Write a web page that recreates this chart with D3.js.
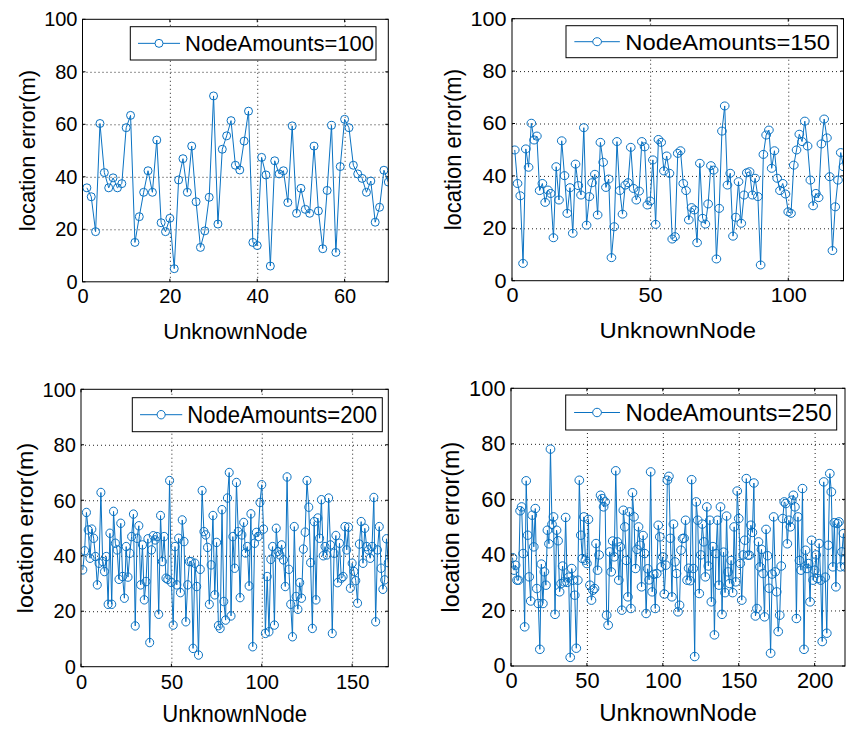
<!DOCTYPE html>
<html>
<head>
<meta charset="utf-8">
<script src="https://cdn.jsdelivr.net/npm/d3@7"></script>
<style>
  body { margin: 0; background: #fff; }
  svg { display: block; font-family: "Liberation Sans", Arial, sans-serif; }
  .grid line { stroke: #222; stroke-width: 1; stroke-dasharray: 1,3; }
  .grid .domain { display: none; }
  .axis .domain { display: none; }
  .axis text { fill: #000; }
</style>
</head>
<body>
<svg id="chart"></svg>
<script>
// location error per unknown node
let nodes100 = [
  35.8, 32.4, 19.1, 60.3, 41.6, 35.8, 39.6, 35.8, 37.4, 58.7,
  63.4, 15.0, 24.8, 34.1, 42.3, 34.1, 54.0, 22.5, 19.1, 24.2,
  5.0, 38.8, 46.9, 34.1, 51.7, 30.5, 13.1, 19.4, 32.2, 70.8,
  22.0, 50.5, 55.6, 61.4, 44.4, 42.6, 53.6, 65.0, 15.0, 13.8,
  47.4, 40.7, 6.0, 46.1, 41.1, 42.3, 30.2, 59.4, 26.1, 35.6,
  27.6, 26.1, 51.7, 27.0, 12.6, 34.8, 59.6, 11.2, 43.9, 61.9,
  58.7, 44.4, 41.1, 39.4, 34.1, 38.4, 22.7, 28.4, 42.5, 38.0
];

let nodes150 = [
  49.9, 37.1, 32.4, 6.6, 50.3, 43.3, 60.1, 53.7, 55.2, 34.4,
  37.1, 29.9, 34.6, 33.3, 16.4, 43.5, 30.8, 53.4, 40.1, 25.7,
  35.5, 18.1, 44.5, 36.3, 32.7, 58.4, 21.2, 32.1, 37.4, 40.6,
  25.1, 52.8, 45.2, 35.6, 38.8, 8.8, 20.6, 53.1, 34.4, 25.4,
  36.5, 37.4, 50.9, 35.2, 30.8, 34.2, 53.1, 51.1, 28.9, 30.4,
  46.1, 21.5, 53.9, 52.8, 41.9, 47.6, 41.0, 15.9, 16.8, 48.6,
  49.6, 37.1, 34.4, 23.2, 27.9, 27.0, 14.5, 44.8, 23.8, 21.6,
  29.3, 43.9, 42.2, 8.3, 27.6, 57.1, 66.7, 36.5, 41.0, 17.0,
  24.2, 37.8, 21.9, 32.7, 41.2, 41.6, 32.7, 39.1, 32.1, 6.0,
  48.2, 55.6, 57.5, 42.9, 49.6, 39.1, 34.4, 37.1, 33.1, 26.3,
  25.7, 44.1, 49.9, 55.9, 53.1, 60.9, 51.4, 38.4, 28.6, 33.3,
  31.7, 52.2, 61.7, 54.5, 39.7, 11.5, 28.2, 38.4, 48.9, 43.5
];

let nodes200 = [
  34.9, 41.8, 55.6, 49.3, 39.1, 49.6, 46.3, 39.7, 29.5, 37.3,
  62.8, 37.9, 34.3, 39.7, 22.5, 48.1, 22.5, 56.0, 44.5, 42.1,
  31.5, 51.7, 32.5, 24.7, 43.3, 32.3, 40.9, 46.9, 55.0, 14.7,
  46.3, 50.8, 29.5, 43.9, 24.1, 30.7, 46.1, 8.7, 42.1, 47.2,
  45.7, 46.9, 18.9, 54.5, 37.9, 46.9, 31.9, 31.5, 67.1, 30.4,
  15.0, 43.3, 29.5, 46.3, 26.7, 52.9, 45.1, 16.2, 29.5, 37.9,
  37.9, 6.6, 37.3, 28.9, 4.2, 35.1, 63.5, 48.7, 47.5, 43.0,
  22.5, 36.7, 54.5, 25.9, 44.8, 14.8, 13.8, 56.6, 23.5, 16.8,
  60.8, 70.0, 18.3, 46.9, 35.5, 66.4, 48.7, 24.9, 47.5, 52.0,
  41.0, 43.3, 29.1, 55.1, 7.2, 44.5, 48.4, 46.9, 59.2, 65.6,
  49.6, 12.0, 32.5, 12.6, 38.7, 43.3, 15.0, 49.9, 41.5, 40.3,
  43.9, 38.5, 28.9, 68.4, 35.1, 22.5, 10.8, 50.5, 25.3, 20.7,
  30.3, 24.7, 42.4, 48.5, 67.1, 57.5, 37.5, 13.8, 52.3, 24.1,
  53.6, 46.3, 60.2, 40.0, 43.3, 40.3, 60.8, 43.9, 12.0, 40.9,
  47.3, 30.3, 44.5, 31.9, 32.5, 50.5, 42.1, 50.3, 28.3, 37.3,
  34.3, 31.0, 22.9, 44.2, 52.3, 37.3, 49.9, 43.3, 42.1, 39.1,
  43.3, 61.0, 16.2, 42.1, 50.5, 35.5, 27.9, 31.3, 46.1, 37.5
];

let nodes250 = [
  39.0, 34.5, 36.3, 30.9, 30.9, 55.9, 57.3, 40.5, 14.1, 66.7,
  47.1, 32.1, 23.4, 54.3, 42.9, 56.7, 27.9, 22.5, 6.0, 36.7,
  22.5, 33.9, 29.1, 48.9, 44.0, 78.1, 51.0, 53.7, 18.6, 48.9,
  45.1, 26.7, 29.7, 36.0, 30.3, 53.5, 30.1, 32.0, 3.1, 35.1,
  30.9, 25.5, 6.4, 30.9, 66.9, 47.1, 38.7, 53.7, 38.1, 36.9,
  52.8, 29.1, 23.7, 27.3, 27.9, 44.1, 34.5, 40.0, 61.5, 60.3,
  57.3, 59.1, 18.3, 14.7, 41.1, 33.9, 45.0, 39.3, 70.3, 44.7,
  30.9, 42.9, 20.1, 56.1, 50.1, 38.0, 24.9, 55.5, 20.7, 62.4,
  53.7, 35.1, 42.0, 50.1, 43.5, 28.5, 47.0, 40.5, 18.9, 35.0,
  31.0, 69.9, 26.7, 33.0, 20.7, 33.3, 50.7, 46.5, 35.7, 39.3,
  25.9, 36.3, 66.9, 68.3, 46.0, 24.9, 51.1, 37.5, 33.3, 19.5,
  21.9, 41.7, 45.9, 46.0, 52.5, 30.9, 35.2, 30.7, 67.1, 35.1,
  3.4, 59.1, 52.5, 26.1, 40.0, 51.1, 44.7, 32.1, 57.3, 36.0,
  52.5, 23.1, 43.0, 11.2, 40.5, 52.5, 29.1, 57.3, 18.6, 41.0,
  26.4, 54.0, 33.9, 29.7, 38.0, 26.4, 50.1, 30.3, 63.0, 53.1,
  36.9, 23.7, 40.0, 45.3, 67.5, 39.9, 39.9, 50.7, 48.1, 65.9,
  18.0, 20.7, 44.7, 35.7, 42.0, 33.3, 17.7, 49.2, 39.7, 28.0,
  4.6, 33.1, 53.7, 33.9, 26.7, 12.4, 18.3, 36.0, 53.1, 59.1,
  58.5, 44.0, 52.5, 50.1, 59.7, 61.5, 57.3, 17.1, 53.7, 38.0,
  34.5, 63.9, 6.0, 41.7, 35.1, 36.9, 23.1, 45.3, 30.9, 34.5,
  40.0, 31.5, 44.1, 30.9, 8.8, 66.3, 32.0, 11.8, 43.5, 69.3,
  62.7, 35.7, 51.6, 28.5, 51.3, 51.9, 35.7, 41.1, 47.7, 35.7
];

let seriesList = [nodes100, nodes150, nodes200, nodes250];
let legendLabels = ["NodeAmounts=100", "NodeAmounts=150", "NodeAmounts=200", "NodeAmounts=250"];
let xMax = [70, 120, 170, 220];
let xTicks = [[0, 20, 40, 60], [0, 50, 100], [0, 50, 100, 150], [0, 50, 100, 150, 200]];
let yTicks = [0, 20, 40, 60, 80, 100];
let xTitle = "UnknownNode";
let yTitle = "location error(m)";

let config = {
  'svg': { width: 849, height: 729 },
  'color': '#0a72c2',
  'font': { tick: 20, title: 22, legend: 22 },
  // each sub-image in the reference has its own stretch (fx, fy)
  'panels': [
    { x0: 82.5, x1: 388.3, y0: 19.3, y1: 281.8, fx: 1.0, fy: 1.0, titleDy: 57,
      legend: { x: 130.3, y: 26.7, w: 245.7, h: 33.3 } },
    { x0: 512, x1: 843.5, y0: 18.7, y1: 280.7, fx: 1.084, fy: 1.0, titleDy: 57,
      legend: { x: 566, y: 25.7, w: 271.3, h: 32 } },
    { x0: 81, x1: 388.3, y0: 389.3, y1: 666.7, fx: 1.005, fy: 1.057, titleDy: 55,
      legend: { x: 132.3, y: 397.7, w: 250, h: 34 } },
    { x0: 511, x1: 845, y0: 388.3, y1: 666, fx: 1.092, fy: 1.058, titleDy: 55,
      legend: { x: 565.7, y: 395, w: 271, h: 35 } }
  ]
};

let svg = d3.select("svg#chart")
  .attr('width', config.svg.width)
  .attr('height', config.svg.height);

let defs = svg.append('defs');

config.panels.forEach(drawPanel);

function drawPanel(p, i) {
  let data = seriesList[i];
  let w = p.x1 - p.x0;
  let h = p.y1 - p.y0;

  let scale = {};
  scale.x = d3.scaleLinear().domain([0, xMax[i]]).range([p.x0, p.x1]);
  scale.y = d3.scaleLinear().domain([0, 100]).range([p.y1, p.y0]);

  let g = svg.append('g').attr('id', 'panel' + i);

  // dotted grid, skipping the box edges
  g.append('g')
    .attr('class', 'grid')
    .attr('transform', translate(0, p.y1))
    .call(d3.axisBottom(scale.x)
      .tickValues(xTicks[i].filter(d => d > 0 && d < xMax[i]))
      .tickSize(-h).tickFormat(''));

  g.append('g')
    .attr('class', 'grid')
    .attr('transform', translate(p.x0, 0))
    .call(d3.axisLeft(scale.y)
      .tickValues(yTicks.filter(d => d > 0 && d < 100))
      .tickSize(-w).tickFormat(''));

  // inward ticks on all four sides
  let tick = 3;
  let ticks = g.append('g').attr('stroke', '#000').attr('stroke-width', 1);
  xTicks[i].forEach(function(t) {
    let x = scale.x(t);
    ticks.append('line').attr('x1', x).attr('x2', x).attr('y1', p.y1).attr('y2', p.y1 - tick);
    ticks.append('line').attr('x1', x).attr('x2', x).attr('y1', p.y0).attr('y2', p.y0 + tick);
  });
  yTicks.forEach(function(t) {
    let y = scale.y(t);
    ticks.append('line').attr('x1', p.x0).attr('x2', p.x0 + tick).attr('y1', y).attr('y2', y);
    ticks.append('line').attr('x1', p.x1).attr('x2', p.x1 - tick).attr('y1', y).attr('y2', y);
  });

  // tick labels
  let ax = g.append('g')
    .attr('class', 'axis')
    .attr('transform', translate(0, p.y1))
    .call(d3.axisBottom(scale.x).tickValues(xTicks[i]).tickSize(0).tickPadding(7 * p.fy));
  ax.selectAll('text')
    .attr('font-size', config.font.tick * p.fy)
    .attr('transform', 'scale(' + (p.fx / p.fy) + ',1)');

  let ay = g.append('g')
    .attr('class', 'axis')
    .attr('transform', translate(p.x0, 0))
    .call(d3.axisLeft(scale.y).tickValues(yTicks).tickSize(0).tickPadding(5 * p.fy));
  ay.selectAll('text')
    .attr('font-size', config.font.tick * p.fy)
    .attr('transform', 'scale(' + (p.fx / p.fy) + ',1)');

  // data line and open circle markers, clipped to the axes
  let clipId = 'clip' + i;
  defs.append('clipPath').attr('id', clipId)
    .append('rect')
    .attr('x', p.x0).attr('y', p.y0)
    .attr('width', w).attr('height', h);

  let plot = g.append('g').attr('clip-path', 'url(#' + clipId + ')');

  let line = d3.line()
    .x((d, k) => scale.x(k + 1))
    .y(d => scale.y(d));

  plot.append('path')
    .datum(data)
    .attr('d', line)
    .attr('fill', 'none')
    .attr('stroke', config.color)
    .attr('stroke-width', 1);

  plot.selectAll('ellipse')
    .data(data)
    .enter()
    .append('ellipse')
    .attr('cx', (d, k) => scale.x(k + 1))
    .attr('cy', d => scale.y(d))
    .attr('rx', 4 * p.fx)
    .attr('ry', 4 * p.fy)
    .attr('fill', 'none')
    .attr('stroke', config.color)
    .attr('stroke-width', 1);

  // axes box
  g.append('rect')
    .attr('x', p.x0).attr('y', p.y0)
    .attr('width', w).attr('height', h)
    .attr('fill', 'none')
    .attr('stroke', '#000')
    .attr('stroke-width', 1);

  // axis titles
  g.append('text')
    .text(xTitle)
    .attr('text-anchor', 'middle')
    .attr('font-size', config.font.title * p.fy)
    .attr('transform', translate((p.x0 + p.x1) / 2, p.y1 + p.titleDy) + ' scale(' + (p.fx / p.fy) + ',1)');

  g.append('text')
    .text(yTitle)
    .attr('text-anchor', 'middle')
    .attr('font-size', config.font.title * p.fx)
    .attr('transform', translate(p.x0 - 47.5 * p.fx, (p.y0 + p.y1) / 2) + ' rotate(-90) scale(' + (p.fy / p.fx) + ',1)');

  drawLegend(g, p, i);
}

function drawLegend(g, p, i) {
  let L = p.legend;
  let cy = L.y + L.h / 2;
  let legend = g.append('g').attr('class', 'legend');

  legend.append('rect')
    .attr('x', L.x).attr('y', L.y)
    .attr('width', L.w).attr('height', L.h)
    .attr('fill', '#fff')
    .attr('stroke', '#000')
    .attr('stroke-width', 1);

  legend.append('line')
    .attr('x1', L.x + 7.7 * p.fx).attr('x2', L.x + 49.7 * p.fx)
    .attr('y1', cy).attr('y2', cy)
    .attr('stroke', config.color);

  legend.append('ellipse')
    .attr('cx', L.x + 28.7 * p.fx).attr('cy', cy)
    .attr('rx', 4 * p.fx).attr('ry', 4 * p.fy)
    .attr('fill', '#fff')
    .attr('stroke', config.color);

  legend.append('text')
    .text(legendLabels[i])
    .attr('font-size', config.font.legend * p.fy)
    .attr('transform', translate(L.x + 54.7 * p.fx, cy + 8 * p.fy) + ' scale(' + (p.fx / p.fy) + ',1)');
}

function translate(x, y) {
  return 'translate(' + x + ',' + y + ')';
}
</script>
</body>
</html>
